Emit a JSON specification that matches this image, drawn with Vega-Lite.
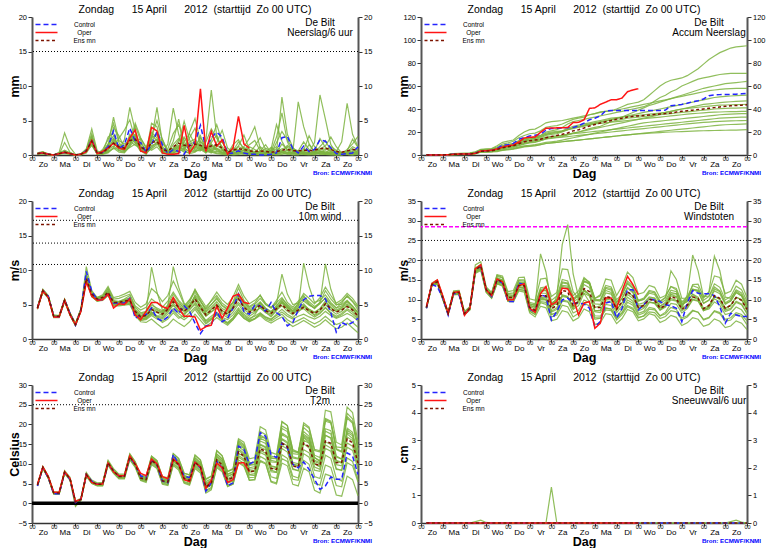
{
  "$schema": "https://vega.github.io/schema/vega-lite/v6.json",
  "padding": {"left": 8, "top": 4, "right": 0, "bottom": 0},
  "datasets": {
    "rr": [
      {"s": "m01", "v": [0.2,0.4,0.1,0,0.3,0.6,0.3,0,0.1,0.8,2.6,0.3,0.2,1.5,2.8,1.0,0.6,2.4,3.0,0.8,0.2,2.5,3.1,0.5,0.1,0.9,2.2,1.5,0.8,2.0,1.2,0.4,1.8,2.9,0.7,0.1,0.3,0.5,0.2,0.1,0,0.2,0.5,0.1,0.3,1.6,0.8,0.2,0.1,0.4,0.2,0.3,1.2,2.1,0.6,0.1,0,0.3,0.9,0.4]},
      {"s": "m02", "v": [0.1,0.2,0,0,0.1,1.8,0.4,0,0.2,0.5,1.4,0.1,0.8,2.2,4.6,1.8,0.9,1.5,2.8,1.1,0.3,1.2,1.8,0.3,0.9,3.1,4.4,2.0,0.6,1.1,2.5,1.4,0.6,0.9,0.4,0.2,1.5,2.2,0.7,0.2,0.1,0.6,1.5,0.3,0.1,0.4,0.2,0,0,0.3,1.5,0.4,0.2,0.1,0,0,0.1,0.6,2.3,1.1]},
      {"s": "m03", "v": [0.3,0.5,0.1,0,0.2,0.3,0.1,0,0.1,0.9,3.8,0.6,0.2,0.4,1.1,2.4,3.6,5.1,2.2,0.9,1.1,3.3,2.5,0.6,0.2,0.3,0.6,0.8,2.5,3.9,1.6,0.3,0.9,1.2,2.0,0.6,0.2,0.4,1.1,0.6,0.3,0.1,0,0.2,1.8,3.4,2.2,0.9,0.5,0.1,0,0.2,0.9,1.3,2.6,1.2,0.3,0.1,0,0.2]},
      {"s": "m04", "v": [0.1,0.3,0.1,0,0.4,3.2,1.1,0.1,0,0.4,1.9,0.2,0.1,0.6,2.0,0.7,0.5,1.3,4.2,2.1,0.4,0.9,1.5,2.3,0.5,0.2,1.0,2.6,1.0,0.5,0.8,2.1,9.4,2.7,0.9,0.2,0,0.1,0.4,1.2,0.8,0.3,0.1,0,0.2,0.5,1.4,0.7,0.2,0.9,0.4,0.2,0.5,0.3,0.2,0.1,0.4,0.2,0.1,0.5]},
      {"s": "m05", "v": [0.2,0.3,0.1,0,0.2,0.5,0.2,0,0.1,0.7,2.4,0.3,0.6,1.4,5.5,2.1,1.6,2.0,1.4,1.0,0.5,2.2,6.9,1.8,0.6,0.5,1.2,0.9,1.9,2.3,0.9,0.5,1.6,0.8,0.3,0.1,0.5,1.3,2.9,0.8,0.2,0.1,0.4,1.1,0.4,8.4,3.0,1.1,0.3,0.2,0.1,0,0.3,0.6,0.2,0,0,0.2,0.4,0.6]},
      {"s": "m06", "v": [0.2,0.2,0.1,0,0.2,0.3,0.2,0,0.1,0.5,1.8,0.1,0.3,2.6,3.2,0.8,2.2,6.9,3.5,1.2,0.2,1.0,1.9,0.4,0.1,0.6,1.8,4.9,2.2,0.7,0.6,1.9,3.8,2.4,1.2,0.3,0.9,0.4,0.2,0.1,0.4,1.2,0.6,0.2,0.1,0.3,0.1,0.2,0.6,1.9,0.8,0.3,0.1,0.2,0.9,0.4,0.2,0.1,0.3,0.2]},
      {"s": "m07", "v": [0.2,0.3,0.1,0,0.1,0.4,0.2,0,0.1,0.6,2.2,0.2,0.4,1.1,1.8,1.5,0.9,2.6,1.7,0.5,0.8,2.9,2.1,0.3,1.6,6.8,3.0,0.7,0.2,0.4,1.1,0.6,0.3,1.8,3.6,1.0,0.4,0.2,0.1,0.3,1.3,2.5,0.8,0.1,0,0.1,0.3,0.4,7.7,4.1,1.6,0.5,0.2,0.1,0.3,0.6,0.2,0.1,0,0.1]},
      {"s": "m08", "v": [0.3,0.4,0.2,0,0.3,0.7,0.3,0,0.2,0.8,3.1,0.4,0.2,0.8,1.3,0.6,0.4,1.6,2.9,1.4,0.3,4.6,4.1,1.0,0.3,1.5,2.4,1.6,1.1,0.9,2.8,0.7,0.5,0.3,0.2,0.1,0.2,0.6,0.3,0.4,0.2,0.1,0.3,0.5,0.9,0.4,0.2,0.3,0.1,0.2,0.4,1.8,8.7,5.2,1.5,0.3,0.1,0.4,1.2,0.8]},
      {"s": "m09", "v": [0.1,0.2,0,0,0.1,0.2,0.1,0,0,0.3,1.5,0.2,0.6,0.9,2.3,1.3,0.6,1.1,1.6,2.4,1.2,0.7,1.2,0.2,0.4,0.8,1.3,0.5,3.3,5.3,2.0,1.2,0.8,1.0,0.6,0.2,0.6,1.9,1.0,0.3,0.1,0,0.2,0.7,1.2,0.6,0.3,0.5,0.2,0.3,0.2,0.1,0.6,0.4,0.3,0.5,1.9,7.5,3.0,1.2]},
      {"s": "m10", "v": [0.2,0.3,0.1,0,0.2,0.4,0.2,0,0.1,0.6,2.0,0.3,0.2,0.5,0.9,1.1,0.8,3.0,2.0,0.6,0.1,1.4,1.6,0.9,0.2,0.3,0.9,0.4,0.3,1.2,0.7,0.9,1.5,0.6,0.4,0.3,1.1,0.5,0.4,0.2,0.3,0.5,0.2,0.1,0.2,0.6,0.4,0.2,0.3,0.5,0.3,0.4,0.3,0.2,0.1,0.2,0.3,0.5,0.3,0.2]},
      {"s": "m11", "v": [0.2,0.3,0.1,0,0.2,0.5,0.2,0,0.1,0.7,2.5,0.2,0.5,1.6,2.4,1.2,1.3,2.2,2.6,1.7,0.6,1.7,2.3,0.9,0.5,1.0,1.4,1.2,1.6,1.9,1.3,0.8,1.1,1.4,0.8,0.2,0.5,0.8,0.6,0.4,0.2,0.4,0.3,0.2,0.4,0.9,1.1,0.7,0.4,0.3,0.2,0.5,0.7,0.9,0.5,0.2,0.1,0.4,0.6,0.8]},
      {"s": "m12", "v": [0.2,0.3,0.1,0,0.2,0.4,0.2,0,0.1,0.5,1.7,0.1,0.2,0.7,4.0,2.8,1.1,1.8,4.6,2.5,0.9,2.1,3.0,1.3,0.2,0.1,0.4,2.0,3.1,1.5,0.8,0.3,2.2,4.4,1.9,0.4,0.1,0.3,0.7,1.5,2.1,0.6,0.2,0.5,2.6,6.1,1.9,0.4,0.2,0.1,0.1,0.6,2.4,1.1,0.4,0.1,0.2,0.8,1.6,2.7]},
      {"s": "m13", "v": [0.2,0.3,0.1,0,0.2,0.4,0.2,0,0.1,0.6,2.3,0.2,0.3,1.0,2.1,0.9,0.7,2.7,1.9,0.8,0.4,1.9,2.2,0.6,0.3,0.7,1.1,0.8,0.6,1.0,1.9,1.1,0.6,0.5,0.3,0.1,0.4,1.2,0.9,0.7,0.5,0.3,1.0,0.6,0.2,0.3,0.7,0.9,0.6,0.4,0.3,0.2,0.4,0.8,1.2,0.7,0.3,0.2,0.5,0.3]},
      {"s": "m14", "v": [0.2,0.4,0.1,0,0.2,0.5,0.2,0,0.1,0.6,2.7,0.4,0.1,0.3,1.0,0.4,0.3,1.2,2.4,0.9,0.2,2.6,5.0,2.2,0.4,2.0,5.2,1.1,0.4,0.6,1.5,0.9,0.4,0.2,0.1,0,0.2,0.3,1.2,2.4,4.1,1.0,0.3,0.8,4.4,2.0,0.6,0.2,0.1,0.7,2.8,1.2,0.5,0.3,0.1,0,0.1,0.2,0.3,0.5]},
      {"s": "Control", "v": [0.2,0.3,0.1,0,0.2,0.4,0.2,0,0.1,0.6,2.2,0.2,0.4,1.2,3.5,0.9,1.5,3.9,2.0,1.8,0.4,1.5,3.4,1.5,0.2,0.8,0.5,0.1,1.5,1.8,4.3,1.0,2.5,3.3,2.6,0.2,0.3,0.6,0.3,0.1,0.1,0,0,0.1,0.3,2.5,2.7,0.9,0.3,1.3,0.5,0.8,2.2,2.0,1.0,0.2,0.1,0.2,0.3,1.2]},
      {"s": "Oper", "v": [0.2,0.3,0.1,0,0.2,0.4,0.2,0,0.1,0.5,2.1,0.2,0.5,1.0,1.7,1.0,0.8,2.5,3.6,0.6,0.3,4.0,3.5,0.3,0.1,0.1,0.2,4.3,0.3,1.5,9.6,0.5,3.4,1.3,2.2,0.1,1.0,5.6,1.6,1.0]},
      {"s": "Ens mn", "v": [0.2,0.3,0.1,0.05,0.2,0.4,0.2,0.05,0.1,0.6,2.0,0.3,0.3,1.0,1.7,1.2,1.0,2.1,2.3,1.2,0.6,1.8,2.0,0.8,0.6,1.2,1.7,1.4,1.3,1.6,1.4,1.0,1.3,1.5,1.0,0.4,0.7,0.9,0.8,0.6,0.5,0.6,0.5,0.4,0.5,0.7,0.8,0.6,0.6,0.7,0.6,0.7,0.9,1.0,0.8,0.5,0.4,0.6,0.8,0.7]}
    ],
    "acc": [
      {"s": "m01", "v": [0,0,0,0,0.3,1,1.2,1.3,1.5,2.5,4.5,5,5.4,7,9.5,10.5,12,15,17,18.5,19,21,24,25,25.5,27,29,31,32,33,35,36,37.5,38,38.5,40,42,44,45,46,48,52,56,60,63,65,66,67,69,72,75,79,83,86,89,91,93,94,94.5,95]},
      {"s": "m02", "v": [0,0,0,0,0.2,0.8,1,1,1.2,2,3.8,4,4.5,6,8,9,10,12.5,14,15,15.5,17,20,21,22,24,27,29,30,31,32,33,34,35,36,37,38,39,40,41,42,44,47,50,52,55,57,60,62,64,66,67,68,69,70,70.5,71,71,71,71]},
      {"s": "m03", "v": [0,0,0,0,0.3,1.2,1.5,1.6,1.8,2.8,5,5.3,5.6,8,11,12,13,17,20,22,22.5,25,28,29,29.5,30,31,32,33,34,35,36,37,38,38.5,39,40,41,42,43,44,45,46,47,48,49,50,51,52,53,54,55,56,56.5,57,57.5,57.8,58,58,58]},
      {"s": "m04", "v": [0,0,0,0,0.1,0.5,0.7,0.7,0.8,1.3,3,3.1,3.3,4.5,6.5,7.5,8,10,12,13,13.5,15,17,18,18.5,20,22,24,25,26,27,28,29,30,31,32,33,34,35,36,37,38,39,40,41,42,43,44,45,46,47,48,49,50,50.5,51,51.3,51.6,51.8,52]},
      {"s": "m05", "v": [0,0,0,0,0.2,0.4,0.5,0.5,0.6,1.2,2.8,3,3.2,4,5.5,6,6.5,8,9.5,10.5,11,12.5,14,15,15.5,16,17.5,19,20,21.5,23,24,25,27,29,30,31,32,32.5,33,33.5,34,35,36,37,38,39,40,41,42,43,44,44.5,45,45.5,46,46.3,46.6,46.8,47]},
      {"s": "m06", "v": [0,0,0,0,0.3,0.9,1.1,1.1,1.3,2,4,4.3,4.6,5.5,7,8,9,11,13,14,14.5,16,18,19,19.5,21,23,25,26,27,28,29,30,31,32,32.5,33,33.5,34,34.5,35,35.5,36,36.5,37,38,39,40,40.5,41,41.5,42,42.5,43,43.3,43.5,43.7,43.8,43.9,44]},
      {"s": "m07", "v": [0,0,0,0,0.2,0.6,0.8,0.8,1,1.6,3.5,3.7,4,5,6.5,7.5,8.5,10,11.5,12.5,13,14,15.5,16,16.5,17,18,19,20,21,22,23,24,25,26,27,28,29,30,31,32,33,34,35,35.5,36,36.5,37,37.5,38,38.5,39,39.5,40,40.3,40.5,40.7,40.8,40.9,41]},
      {"s": "m08", "v": [0,0,0,0,0.3,1,1.2,1.2,1.4,2.2,4.2,4.5,4.8,6,8,9,10,12,14,15,15.5,17,19,20,20.5,21,22,23,24,25,26,27,27.5,28,28.5,29,29.5,30,30.5,31,31.5,32,32.5,33,33.5,34,34.5,35,35.5,36,36.3,36.6,37,37.2,37.4,37.6,37.7,37.8,37.9,38]},
      {"s": "m09", "v": [0,0,0,0,0.1,0.4,0.6,0.6,0.7,1.1,2.6,2.7,2.9,3.5,4.5,5,5.5,7,8,8.5,9,10,11,11.5,12,13,14,15,16,17,18,19,20,21,22,23,24,25,26,27,28,28.5,29,29.5,30,30.5,31,31.5,32,32.5,33,33.5,34,34.5,35,35.3,35.5,35.7,35.9,36]},
      {"s": "m10", "v": [0,0,0,0,0.2,0.7,0.9,0.9,1,1.8,3.8,4,4.2,5,6.5,7,7.5,9,10.5,11.5,12,13.5,15,16,16.5,17,18,18.5,19,19.5,20,20.5,21,21.5,22,22.5,23,23.5,24,24.5,25,25.5,26,26.5,27,27.5,28,28.5,29,29.5,30,30.5,31,31.5,32,32.3,32.5,32.7,32.9,33]},
      {"s": "m11", "v": [0,0,0,0,0.3,0.8,1,1,1.2,1.9,3.6,3.8,4,4.8,6,6.5,7,8.5,10,11,11.5,12.5,14,14.5,15,15.5,16,16.5,17,17.5,18,18.5,19,19.5,20,20.5,21,21.5,22,22.5,23,23.5,24,24.5,25,25.5,26,26.5,27,27.5,28,28.3,28.6,29,29.2,29.4,29.6,29.8,29.9,30]},
      {"s": "m12", "v": [0,0,0,0,0.1,0.3,0.4,0.4,0.5,0.9,2.4,2.5,2.6,3,4,4.5,5,6,7,7.5,8,9,10,10.5,11,11.5,12,12.5,13,13.5,14,14.5,15,15.5,16,16.5,17,17.5,18,18.5,19,19.5,20,20.5,21,21.5,22,22.5,23,23.5,24,24.5,25,25.5,26,26.3,26.5,26.7,26.9,27]},
      {"s": "m13", "v": [0,0,0,0,0.2,0.5,0.6,0.6,0.7,1.2,2.8,2.9,3,3.5,4.5,5,5.5,6.5,7.5,8,8.5,9,10,10.5,11,11.5,12,12.5,13,13.5,14,14.5,15,15.5,16,16.5,17,17.5,18,18.3,18.6,18.9,19.2,19.5,19.8,20,20.2,20.4,20.6,20.8,21,21.1,21.2,21.3,21.4,21.5,21.6,21.7,21.8,22]},
      {"s": "m14", "v": [0,0,0,0,0.2,0.6,0.8,0.8,0.9,1.6,3.4,3.6,3.9,5,7,8,9,11,13,14,14.5,16,18,19,19.5,20.5,22,23.5,24.5,25.5,26.5,27.5,28.5,29.5,30.5,31.5,33,35,37,39,41,43,44.5,46,47.5,49,50.5,52,53.5,55,56.5,58,59,60,61,62,62.5,63,63.5,64]},
      {"s": "Control", "v": [0,0,0,0,0.2,0.6,0.8,0.8,0.9,1.5,3.6,3.7,4.1,5.4,8.7,8.9,10.1,13.7,15.2,16.6,17.2,18,21.6,23,23.2,23.5,23.8,23.9,25.4,27.7,30.6,32,34,38.5,38.6,38.6,38.6,38.7,38.7,38.7,38.7,38.7,38.7,38.8,39.1,42.9,43.4,44,45,46.4,47.2,48.7,51.6,52.2,52.5,52.6,52.7,52.9,53.2,53.6]},
      {"s": "Oper", "v": [0,0,0,0,0.2,0.6,0.8,0.8,0.9,1.4,3.5,3.7,4.2,5.2,6.9,7.9,8.7,11.2,14.8,15.4,15.7,19.7,23.2,23.5,23.6,23.7,23.9,28.2,28.4,30.5,40.5,41,44,46,48,48.1,49.5,55,56.6,57.6]},
      {"s": "Ens mn", "v": [0,0,0,0,0.2,0.6,0.8,0.8,0.9,1.5,3.2,3.4,3.7,4.8,6.2,7.2,8.0,9.8,11.5,12.4,13.0,13.7,15.0,16.0,17.0,18.0,19.2,21.0,22.0,23.5,25.2,26.6,27.8,29.0,30.0,31.2,32.0,33.0,33.6,34.0,34.4,34.8,35.2,35.6,36.0,36.6,37.3,38.0,38.5,39.0,39.5,40.0,40.6,41.2,41.8,42.4,42.8,43.1,43.3,43.6]}
    ],
    "wind": [
      {"s": "m01", "v": [4.6,7.2,6.3,3.5,3.4,5.8,3.8,2.3,4.4,10.5,7.0,6.0,6.2,7.2,5.6,5.4,5.8,6.3,4.6,3.8,4.0,5.2,4.3,3.9,5.0,6.5,5.4,4.4,5.3,7.2,5.6,4.0,5.0,6.0,4.8,4.2,5.4,7.4,5.6,4.7,5.2,6.4,5.0,4.5,5.6,6.8,5.3,4.6,5.5,6.3,5.1,4.4,5.3,7.0,5.8,4.9,5.4,6.2,5.4,4.2]},
      {"s": "m02", "v": [4.3,6.8,5.9,3.1,3.1,5.4,3.4,1.9,4.0,9.2,6.2,5.5,5.7,6.4,4.9,5.0,5.1,5.2,3.5,2.7,2.9,3.6,3.2,2.9,3.6,4.4,3.7,3.1,3.8,4.6,3.6,2.7,3.3,3.9,3.1,2.8,3.5,4.5,3.6,3.0,3.3,3.8,3.2,2.9,3.4,3.9,3.3,2.9,3.3,3.6,3.2,2.9,3.3,4.0,3.4,3.0,3.3,3.7,3.3,2.6]},
      {"s": "m03", "v": [4.5,7.1,6.2,3.4,3.4,5.7,3.7,2.2,4.3,9.0,6.6,6.0,6.4,7.6,6.0,6.2,6.5,6.9,5.3,4.6,5.1,7.3,6.6,5.4,6.3,8.4,6.8,5.0,4.6,5.5,3.9,2.6,3.0,3.7,2.9,2.4,3.1,4.2,3.4,2.8,3.5,4.8,3.9,3.2,4.1,5.4,4.7,4.0,5.2,6.6,5.9,5.1,6.0,7.5,6.3,5.2,5.7,6.6,5.9,4.8]},
      {"s": "m04", "v": [4.4,6.9,6.0,3.2,3.2,5.5,3.5,2.0,4.1,8.5,6.3,5.6,5.8,6.6,5.1,5.1,5.3,5.5,3.7,2.9,3.0,3.9,3.1,2.4,2.9,3.8,3.0,3.4,4.6,6.4,5.4,4.4,5.6,6.8,5.7,5.0,6.1,7.9,6.2,5.1,5.6,6.3,5.2,4.6,5.3,6.0,4.9,4.1,4.5,5.1,4.2,3.4,3.8,4.5,3.7,3.1,3.5,4.2,3.6,2.9]},
      {"s": "m05", "v": [4.5,7.0,6.1,3.3,3.3,5.6,3.6,2.1,4.2,8.8,6.4,5.7,5.9,6.7,5.2,5.2,5.4,5.5,3.9,3.1,3.3,4.2,3.8,3.4,4.8,10.5,7.5,5.2,4.4,5.0,3.6,2.4,2.9,3.6,2.7,2.2,2.8,3.8,3.0,2.5,2.9,3.7,3.1,2.8,3.6,4.3,3.6,3.1,3.9,4.7,4.0,3.5,4.1,5.0,4.2,3.6,4.0,4.9,4.3,3.4]},
      {"s": "m06", "v": [4.6,7.1,6.2,3.4,3.3,5.7,3.6,2.1,4.2,9.5,6.8,5.9,6.1,7.0,5.4,5.4,5.6,6.0,4.2,3.4,3.8,10.4,6.8,4.2,4.0,4.9,4.0,3.6,4.2,5.2,4.3,3.3,4.0,4.6,3.8,3.4,4.3,5.3,4.3,3.7,4.0,4.5,3.8,3.4,4.2,4.8,4.0,3.5,4.6,11.0,7.6,5.3,5.6,6.4,5.3,4.5,4.8,5.5,4.7,3.9]},
      {"s": "m07", "v": [4.5,7.0,6.1,3.3,3.2,5.6,3.6,2.0,4.1,8.7,6.4,5.7,5.9,6.6,5.1,5.2,5.3,5.4,3.8,3.0,3.1,3.9,3.3,3.1,3.9,4.9,4.1,3.7,4.6,5.9,4.5,3.3,3.9,4.5,3.6,3.1,3.9,5.0,3.9,3.3,3.8,4.6,3.9,3.6,4.4,5.3,4.6,4.1,4.8,5.5,4.9,4.5,5.3,10.9,7.2,5.0,5.0,5.6,4.8,3.8]},
      {"s": "m08", "v": [4.4,6.9,6.0,3.2,3.2,5.5,3.5,2.0,4.0,8.4,6.1,5.5,5.6,6.3,4.8,4.8,4.9,5.0,3.4,2.5,2.4,2.9,2.2,1.6,2.0,2.9,2.3,1.8,2.5,3.6,2.7,1.8,2.4,3.1,2.5,2.0,2.8,3.9,3.0,2.6,2.9,3.4,2.7,2.3,2.8,3.2,2.4,1.8,2.2,2.7,2.2,1.7,2.1,2.8,2.1,1.5,1.7,2.3,1.6,0.9]},
      {"s": "m09", "v": [4.6,7.1,6.2,3.4,3.4,5.7,3.7,2.2,4.3,9.3,6.7,6.0,6.2,7.4,5.8,5.9,6.2,6.5,4.8,4.2,4.6,5.8,5.2,4.6,5.5,6.8,5.6,4.8,5.7,7.1,5.9,4.7,5.5,6.3,5.2,4.6,5.3,6.6,5.3,4.4,4.7,5.4,4.5,4.0,4.8,5.8,5.0,4.4,5.0,6.1,5.4,4.7,5.2,5.9,4.9,4.2,4.6,5.4,4.7,3.8]},
      {"s": "m10", "v": [4.5,7.0,6.1,3.3,3.3,5.6,3.6,2.1,4.2,8.9,6.5,5.8,6.0,6.8,5.3,5.3,5.5,5.7,4.0,3.3,3.6,4.6,4.2,3.8,4.5,5.7,4.9,4.3,5.0,6.2,5.0,3.9,4.6,5.4,4.4,4.0,4.9,6.3,5.0,4.2,4.5,5.2,4.3,3.9,4.6,5.2,4.3,3.7,4.1,4.4,3.7,3.2,3.7,4.6,3.8,3.3,3.7,4.4,3.9,3.1]},
      {"s": "m11", "v": [4.5,7.0,6.1,3.3,3.3,5.6,3.6,2.1,4.2,8.6,6.3,5.6,5.8,6.5,5.0,5.1,5.2,5.4,3.7,2.9,3.1,3.7,3.4,3.3,4.1,5.2,4.4,4.0,4.8,6.1,4.9,3.6,4.3,5.0,4.1,3.7,4.6,5.9,4.7,4.0,4.4,5.1,4.3,3.8,4.5,5.4,4.5,3.9,4.2,4.8,4.3,3.8,4.4,5.5,4.6,4.0,4.5,5.1,4.4,3.5]},
      {"s": "m12", "v": [4.5,7.0,6.1,3.3,3.3,5.6,3.6,2.1,4.2,8.8,6.4,5.7,5.9,6.7,5.2,5.3,5.4,5.6,4.0,3.3,3.5,4.4,4.0,3.7,4.4,5.6,4.7,4.1,4.9,6.0,4.7,3.6,4.3,5.1,4.1,3.7,4.6,6.1,4.8,4.0,4.3,5.3,4.4,3.9,4.8,5.6,4.6,4.0,4.5,4.9,4.3,3.9,4.4,5.3,4.5,4.0,4.3,4.8,4.3,3.4]},
      {"s": "m13", "v": [4.5,7.1,6.2,3.4,3.3,5.7,3.7,2.1,4.2,8.9,6.6,5.9,6.1,6.9,5.4,5.5,5.7,5.9,4.3,3.6,3.9,4.9,4.5,4.1,4.8,6.0,5.1,4.6,5.6,6.8,5.5,4.3,5.0,5.8,4.9,4.4,5.2,6.5,5.3,4.6,5.0,5.9,5.0,4.5,5.1,9.4,6.5,5.0,5.2,5.8,5.0,4.5,5.1,6.0,5.1,4.5,5.2,6.3,5.5,4.6]},
      {"s": "m14", "v": [4.4,6.9,6.0,3.2,3.2,5.5,3.5,2.0,4.1,8.6,6.2,5.5,5.7,6.4,4.9,4.9,5.0,5.1,3.5,2.7,2.8,3.4,2.9,2.6,3.2,4.1,3.3,2.8,3.4,4.3,3.2,2.2,2.8,3.5,2.7,2.3,3.0,4.2,3.2,2.7,3.0,3.6,2.9,2.6,3.1,3.6,2.8,2.3,2.7,3.1,2.6,2.2,2.6,3.3,2.6,2.1,2.4,3.0,2.4,1.7]},
      {"s": "Control", "v": [4.5,7.0,6.2,3.3,3.2,5.7,3.7,2.0,4.2,9.8,6.9,5.7,5.7,6.6,5.2,5.2,5.2,5.9,3.0,3.5,3.5,4.5,3.0,2.6,3.2,4.5,3.7,4.8,4.0,2.3,0.8,1.9,2.1,4.0,2.5,3.0,4.5,6.5,4.0,3.6,4.9,4.8,4.0,5.3,3.8,3.3,1.9,2.4,4.2,5.7,6.2,6.3,6.3,5.8,3.8,1.0,2.4,2.0,2.4,3.0]},
      {"s": "Oper", "v": [4.4,7.0,6.0,3.2,3.2,5.6,3.5,2.1,4.0,8.3,6.2,5.6,5.7,6.5,4.5,5.1,5.0,5.8,3.5,2.8,4.0,5.3,5.3,4.7,4.4,6.0,4.5,3.3,3.3,3.2,1.3,1.8,2.0,4.8,3.0,4.5,6.2,6.5,5.3,5.1]},
      {"s": "Ens mn", "v": [4.5,7.0,6.1,3.3,3.3,5.6,3.6,2.1,4.2,8.8,6.5,5.8,6.0,6.8,5.3,5.3,5.5,5.6,4.0,3.2,3.4,4.3,3.9,3.6,4.3,5.4,4.6,4.0,4.7,5.8,4.6,3.5,4.2,4.9,4.0,3.6,4.5,5.8,4.6,3.9,4.2,4.9,4.1,3.7,4.4,5.0,4.2,3.7,4.2,4.6,4.1,3.7,4.2,5.1,4.4,3.9,4.2,4.7,4.2,3.3]}
    ],
    "gust": [
      {"s": "m01", "v": [8.2,14.2,15.0,11.0,6.8,12.2,12.3,6.9,8.2,18.8,19.6,13.2,11.8,16.2,15.6,11.3,11.4,14.8,14.7,9.0,8.4,12.6,12.8,9.0,10.0,14.5,14.2,10.0,11.2,15.3,14.4,9.7,9.8,13.1,12.8,9.2,11.5,14.7,13.4,9.8,10.4,12.3,12.0,9.6,10.6,13.3,12.8,9.4,10.7,13.5,13.0,9.8,10.8,14.0,13.1,9.9,10.8,13.4,12.5,9.6]},
      {"s": "m02", "v": [7.8,13.4,14.0,10.0,6.2,11.2,11.3,6.1,7.4,16.6,17.4,11.8,10.3,14.0,13.4,9.6,9.6,12.5,12.3,7.0,6.3,9.5,9.3,6.2,6.8,9.9,9.6,6.6,7.3,9.9,9.2,5.9,5.8,7.9,7.6,5.3,6.7,8.5,7.8,5.5,5.8,6.9,6.7,5.2,5.7,7.2,6.9,4.9,5.6,7.1,6.8,5.0,5.5,7.2,6.7,5.0,5.4,6.7,6.2,4.6]},
      {"s": "m03", "v": [8.0,13.9,14.6,10.6,6.6,11.9,12.0,6.7,8.0,17.1,18.0,12.9,11.7,16.3,16.0,12.0,12.3,15.6,15.7,10.2,9.8,15.2,15.4,10.8,11.8,17.8,17.6,12.0,10.2,12.6,11.2,6.9,6.7,8.8,8.5,5.8,7.4,9.9,9.1,6.5,7.0,9.2,9.3,7.3,8.1,11.4,11.5,8.6,10.2,13.8,13.9,10.7,11.8,16.0,15.6,11.5,12.1,14.9,13.9,10.5]},
      {"s": "m04", "v": [7.9,13.6,14.3,10.3,6.3,11.5,11.5,6.3,7.6,16.9,17.9,12.1,10.6,14.5,14.0,10.0,10.0,13.0,12.8,7.5,6.7,10.2,10.0,6.2,6.6,9.6,9.4,7.6,10.0,14.6,14.3,10.3,11.2,15.2,14.9,11.0,13.4,17.0,15.6,11.4,11.8,13.6,13.1,10.4,11.0,13.3,12.4,8.8,9.5,11.3,10.2,7.2,7.6,9.4,8.6,6.2,6.6,8.1,7.4,5.5]},
      {"s": "m05", "v": [8.0,13.8,14.5,10.5,6.5,11.7,11.8,6.5,7.8,17.4,18.4,12.4,10.9,14.9,14.4,10.4,10.4,13.5,13.4,7.8,7.1,10.6,10.5,7.2,11.0,24.0,29.0,16.5,10.6,11.6,9.4,5.4,5.3,7.4,7.2,4.8,6.2,8.2,7.5,5.3,5.9,7.6,7.4,5.9,6.8,9.0,8.8,6.6,7.7,9.9,9.6,7.2,8.2,10.8,10.2,7.8,8.6,10.6,9.9,7.3]},
      {"s": "m06", "v": [8.1,13.9,14.6,10.6,6.6,11.8,11.9,6.6,7.9,18.0,18.9,12.9,11.3,15.5,15.0,10.9,11.1,14.4,14.3,8.8,8.7,21.6,17.0,8.9,8.8,11.0,10.7,8.3,9.6,12.3,11.3,8.0,8.4,10.6,10.1,7.5,9.2,11.3,10.3,7.8,8.1,9.4,9.0,7.5,8.3,9.9,9.6,7.8,11.2,21.3,17.3,10.7,10.9,13.2,12.2,9.0,9.6,11.8,10.9,8.2]},
      {"s": "m07", "v": [8.0,13.8,14.5,10.5,6.5,11.7,11.8,6.5,7.7,17.3,18.3,12.3,10.8,14.7,14.2,10.2,10.2,13.2,13.0,7.6,6.9,10.4,10.1,7.0,7.9,11.2,10.8,8.0,9.2,12.2,11.2,7.2,7.2,9.7,9.3,6.7,8.4,10.6,9.6,7.1,7.8,9.4,9.1,7.4,8.6,10.9,10.7,8.4,9.9,12.6,12.4,10.4,12.0,21.0,17.3,10.6,10.3,12.2,11.2,8.4]},
      {"s": "m08", "v": [7.8,13.5,14.1,10.1,6.2,11.3,11.4,6.2,7.4,16.8,17.6,11.9,10.4,14.1,13.5,9.5,9.4,12.2,11.9,6.6,5.6,8.3,7.9,4.6,5.0,7.2,6.8,4.6,5.4,7.6,6.9,3.7,4.1,6.4,6.2,3.9,5.2,7.5,6.9,4.6,5.1,6.4,6.0,4.2,4.8,6.0,5.5,3.4,4.1,5.4,5.0,3.2,3.7,5.1,4.5,2.9,3.3,4.6,4.0,2.4]},
      {"s": "m09", "v": [8.1,14.0,14.8,10.8,6.8,12.0,12.2,6.9,8.2,17.8,18.8,12.9,11.6,15.9,15.5,11.5,11.7,15.0,15.0,9.3,8.9,13.0,13.2,9.8,10.9,15.1,14.7,11.0,12.2,15.6,14.4,10.3,10.9,13.6,13.2,10.0,11.3,14.0,12.8,9.7,10.0,11.6,11.3,9.0,9.9,12.4,12.0,9.2,10.1,12.5,12.0,9.0,9.8,12.2,11.5,8.8,9.6,11.8,11.0,8.1]},
      {"s": "m10", "v": [8.0,13.8,14.5,10.5,6.5,11.7,11.8,6.5,7.8,17.6,18.6,12.6,11.1,15.1,14.6,10.6,10.6,13.8,13.7,8.2,7.6,11.6,11.6,8.3,9.2,13.3,13.0,9.4,10.3,13.8,13.0,8.9,8.8,11.7,11.4,8.3,10.3,13.1,12.0,8.8,9.2,10.7,10.4,8.3,9.0,11.3,10.8,7.9,8.6,10.6,10.0,7.3,7.9,10.2,9.4,7.0,7.5,9.3,8.7,6.4]},
      {"s": "m11", "v": [7.9,13.7,14.4,10.4,6.4,11.6,11.6,6.4,7.6,17.2,18.2,12.2,10.7,14.6,14.0,10.0,10.0,13.1,12.9,7.4,6.7,10.0,9.9,6.8,7.5,10.8,10.5,7.5,8.5,11.6,10.9,7.1,7.3,10.1,9.9,7.3,9.2,11.8,10.9,8.0,8.6,10.4,10.3,8.4,9.3,11.8,11.5,8.8,9.5,11.4,10.6,7.8,8.4,10.9,10.0,7.4,7.8,9.6,8.9,6.6]},
      {"s": "m12", "v": [8.0,13.8,14.5,10.5,6.5,11.7,11.8,6.5,7.9,17.7,18.6,12.6,11.1,15.2,14.7,10.7,10.8,14.0,14.0,8.5,8.0,12.1,12.3,9.0,10.0,14.2,14.0,10.3,11.3,14.8,13.9,9.9,9.6,12.3,11.8,8.6,10.4,12.9,11.7,8.5,8.6,10.1,9.8,7.9,8.4,10.3,9.8,7.2,8.0,10.1,9.7,7.2,8.1,10.7,10.1,7.7,8.5,10.6,10.0,7.6]},
      {"s": "m13", "v": [8.0,13.9,14.6,10.6,6.6,11.8,11.9,6.6,7.9,17.9,18.8,12.8,11.3,15.4,14.9,10.8,10.9,14.1,14.1,8.6,8.1,12.3,12.4,9.1,9.8,13.6,13.4,9.8,11.0,14.6,14.0,10.0,10.0,12.8,12.4,9.3,11.2,14.2,13.0,9.6,10.1,12.0,11.7,9.5,10.4,17.3,15.1,10.3,10.4,12.7,12.2,9.1,9.9,12.7,12.0,9.2,10.0,12.5,11.7,8.9]},
      {"s": "m14", "v": [7.9,13.7,14.3,10.3,6.3,11.5,11.6,6.3,7.6,17.0,17.9,12.0,10.5,14.3,13.7,9.7,9.6,12.6,12.4,7.1,6.2,9.2,8.8,5.6,6.1,8.6,8.2,5.6,6.5,9.1,8.4,5.0,5.3,7.8,7.6,5.2,6.6,9.3,8.6,6.1,6.6,8.0,7.7,5.8,6.4,8.0,7.5,5.3,5.9,7.3,6.8,4.8,5.3,7.0,6.4,4.5,4.8,6.3,5.7,3.6]},
      {"s": "Control", "v": [7.8,13.8,13.3,10.4,6.1,11.6,11.2,6.1,7.8,17.6,18.4,12.5,10.8,15.0,14.2,9.5,9.5,14.2,13.8,7.4,7.0,11.2,10.8,4.8,7.0,9.9,10.4,9.1,9.1,8.9,7.8,3.1,4.4,9.1,9.5,5.3,7.8,12.5,12.5,7.4,8.7,10.1,9.9,9.5,8.7,8.4,7.8,4.4,9.1,12.3,11.6,11.5,11.5,11.0,8.2,4.0,6.5,6.1,5.7,5.7]},
      {"s": "Oper", "v": [8.2,14.0,15.0,11.0,6.5,11.8,12.0,6.0,7.8,17.8,18.8,12.5,11.0,15.2,14.5,9.9,10.0,13.5,14.0,7.8,6.8,11.5,13.3,8.7,9.5,12.9,12.7,10.4,6.1,9.1,9.5,2.7,4.0,10.4,10.4,7.8,12.1,15.9,13.8,11.2]},
      {"s": "Ens mn", "v": [8.0,13.8,14.5,10.5,6.5,11.7,11.8,6.5,7.8,17.5,18.5,12.5,11.0,15.0,14.5,10.5,10.5,13.6,13.5,8.0,7.3,11.0,11.0,7.7,8.5,12.3,12.0,8.5,9.5,12.8,12.0,8.0,8.0,10.8,10.5,7.5,9.5,12.0,11.0,8.0,8.5,10.0,9.8,7.8,8.5,10.7,10.3,7.5,8.5,10.7,10.3,7.7,8.5,11.0,10.3,7.8,8.5,10.5,9.8,7.5]}
    ],
    "t2m": [
      {"s": "m01", "v": [4.8,9.4,6.9,2.9,2.9,8.3,6.6,0.6,1.3,7.8,5.9,5.2,5.3,10.9,8.8,7.4,7.4,12.6,10.6,7.2,6.8,12.0,10.8,6.7,6.5,12.6,11.3,7.6,7.2,12.3,11.0,6.2,6.9,13.4,12.1,8.0,8.6,16.0,14.9,10.2,10.5,17.3,16.5,11.6,11.3,19.0,18.2,12.6,12.4,19.9,19.0,13.4,13.0,21.3,20.5,14.3,14.1,22.8,21.4,14.5]},
      {"s": "m02", "v": [4.4,8.8,6.3,2.3,2.3,7.5,5.8,-0.8,0.7,6.8,5.0,4.4,4.4,9.6,7.6,6.2,6.2,11.0,9.1,5.8,5.3,9.8,8.8,4.8,4.5,9.6,8.4,5.1,4.6,8.8,7.7,2.6,3.4,9.0,8.0,4.2,4.9,10.2,9.4,5.9,6.1,10.6,10.0,5.6,5.2,11.3,10.6,6.1,5.8,10.9,9.9,5.1,4.6,9.7,9.1,4.5,4.2,10.3,9.5,5.4]},
      {"s": "m03", "v": [4.6,9.1,6.6,2.6,2.5,7.9,6.2,0.3,1.0,7.3,5.4,4.8,4.8,10.3,8.3,6.9,6.9,12.0,10.0,6.6,6.2,11.2,10.2,6.0,5.7,11.5,10.3,6.8,6.3,10.9,9.7,4.9,5.6,11.8,10.6,6.8,7.4,14.4,13.3,9.0,9.3,15.8,15.2,10.5,10.4,17.4,16.6,11.5,11.2,17.5,16.5,11.6,10.8,18.3,17.6,11.7,11.2,19.1,18.0,12.3]},
      {"s": "m04", "v": [4.5,9.0,6.5,2.5,2.6,7.8,6.1,0.2,0.9,7.2,5.3,4.7,4.7,10.1,8.0,6.7,6.7,11.6,9.7,6.2,5.8,10.6,9.6,5.5,5.2,10.6,9.5,6.0,5.5,9.8,8.8,3.8,4.6,10.1,9.1,5.1,5.8,11.7,10.8,7.3,7.5,12.9,12.2,8.0,7.8,13.9,13.0,8.6,8.3,13.6,12.8,8.4,8.1,13.9,13.2,8.6,8.4,14.2,13.4,8.7]},
      {"s": "m05", "v": [4.7,9.2,6.7,2.7,2.7,8.0,6.3,0.4,1.1,7.5,5.6,5.0,5.0,10.5,8.5,7.1,7.1,12.3,10.3,6.9,6.5,11.6,10.5,6.3,6.0,12.1,10.8,7.1,6.6,11.6,10.4,5.5,6.2,12.5,11.3,7.4,8.0,15.3,14.2,9.8,10.0,17.0,16.4,11.4,11.3,19.6,18.8,13.1,12.9,20.4,19.3,13.7,13.3,23.6,23.2,15.5,14.8,24.4,23.0,15.6]},
      {"s": "m06", "v": [4.5,9.0,6.5,2.5,2.5,7.8,6.1,0.2,1.0,7.2,5.3,4.7,4.8,10.2,8.1,6.8,6.7,11.8,9.8,6.3,5.9,10.8,9.7,5.5,5.1,10.8,9.6,6.1,5.6,10.2,9.0,4.0,4.6,10.5,9.4,5.2,5.6,12.1,11.2,7.2,7.0,13.4,12.7,8.4,7.9,14.6,13.8,8.8,8.2,16.0,15.2,10.1,9.5,17.2,16.5,10.7,10.2,18.6,17.5,11.5]},
      {"s": "m07", "v": [4.6,9.1,6.6,2.6,2.6,7.9,6.2,0.3,1.0,7.4,5.5,4.9,4.9,10.4,8.3,6.9,6.9,12.1,10.1,6.6,6.2,11.3,10.2,6.0,5.6,11.4,10.2,6.6,6.2,11.0,9.8,4.8,5.6,12.0,10.8,6.9,7.5,14.8,13.9,9.6,9.8,16.5,15.8,10.9,10.6,17.8,16.9,11.8,11.4,16.6,15.4,10.0,9.2,14.8,14.0,8.8,8.3,15.3,14.5,9.4]},
      {"s": "m08", "v": [4.4,8.9,6.4,2.4,2.4,7.7,6.0,0.1,0.9,7.1,5.2,4.6,4.6,9.9,7.9,6.5,6.5,11.4,9.5,6.1,5.7,10.4,9.3,5.2,4.8,10.2,9.0,5.5,5.1,9.5,8.4,3.3,4.0,9.7,8.6,4.6,5.1,11.0,10.2,6.5,6.6,11.9,11.1,6.7,6.3,12.3,11.4,6.9,6.4,12.6,11.7,6.8,6.3,12.2,11.4,6.3,5.6,11.5,10.6,5.9]},
      {"s": "m09", "v": [4.6,9.1,6.6,2.6,2.6,7.9,6.2,0.3,1.0,7.3,5.4,4.8,4.8,10.3,8.2,6.8,6.8,11.9,9.9,6.5,6.1,11.1,10.0,5.8,5.5,11.2,10.0,6.4,6.0,10.7,9.5,4.5,5.2,11.4,10.2,6.3,7.0,13.8,12.7,8.6,8.8,15.0,14.3,9.5,9.2,16.4,15.6,10.4,10.0,17.1,16.2,10.9,10.3,18.9,18.4,12.0,11.2,17.6,16.4,10.8]},
      {"s": "m10", "v": [4.5,9.0,6.5,2.5,2.5,7.8,6.1,0.2,0.9,7.2,5.3,4.7,4.7,10.1,8.1,6.7,6.7,11.7,9.7,6.3,5.9,10.7,9.6,5.6,5.2,10.9,9.7,6.2,5.7,10.3,9.1,4.1,4.8,10.9,9.8,5.6,6.3,12.7,11.8,7.9,8.1,14.2,13.6,9.0,8.6,15.4,14.6,9.8,9.4,15.1,14.0,9.2,8.6,15.6,14.9,9.8,9.5,16.8,15.9,10.4]},
      {"s": "m11", "v": [4.6,9.1,6.6,2.6,2.6,7.9,6.2,0.3,1.0,7.4,5.5,4.9,4.9,10.4,8.3,6.9,7.0,12.1,10.1,6.7,6.3,11.5,10.4,6.2,5.9,11.8,10.6,6.9,6.5,11.4,10.1,5.1,5.9,12.5,11.2,7.3,7.9,15.6,14.6,10.3,10.4,18.2,17.4,12.0,11.6,20.6,19.7,13.6,13.0,18.2,17.0,11.6,10.6,20.8,20.4,13.6,13.0,21.6,20.3,13.4]},
      {"s": "m12", "v": [4.4,8.9,6.4,2.4,2.4,7.7,6.0,-0.5,0.8,7.0,5.1,4.5,4.5,9.8,7.8,6.4,6.3,11.2,9.3,5.9,5.5,10.1,9.0,5.0,4.7,9.9,8.8,5.3,4.9,9.2,8.1,3.0,3.7,9.3,8.3,4.4,4.8,10.4,9.7,5.8,5.9,10.9,10.2,5.4,4.9,10.2,9.5,4.8,4.4,8.9,8.0,3.3,2.6,7.4,6.9,2.1,1.8,6.9,6.0,1.9]},
      {"s": "m13", "v": [4.5,9.0,6.5,2.5,2.6,7.9,6.2,0.3,1.0,7.3,5.4,4.8,4.8,10.2,8.1,6.7,6.8,11.9,9.8,6.4,6.0,11.0,9.8,5.6,5.4,11.1,9.9,6.3,5.9,10.6,9.4,4.4,5.0,11.2,10.0,6.0,6.6,13.4,12.4,8.2,8.3,14.8,14.1,9.4,9.0,16.2,15.2,10.0,9.6,16.8,15.8,10.6,10.0,17.3,16.6,10.9,10.4,18.0,17.1,11.4]},
      {"s": "m14", "v": [4.6,9.2,6.7,2.7,2.7,8.0,6.3,0.4,1.1,7.5,5.6,5.0,5.1,10.6,8.5,7.1,7.1,12.4,10.4,7.0,6.6,11.9,10.8,6.6,6.3,12.6,11.4,7.6,7.2,12.1,10.9,6.0,6.8,13.3,12.0,8.1,8.8,16.4,15.5,11.3,11.6,19.4,18.6,12.9,12.4,20.8,19.7,13.4,12.8,19.2,18.0,12.2,11.6,21.5,20.8,13.8,13.2,22.0,20.6,13.7]},
      {"s": "Control", "v": [4.4,9.0,6.5,2.4,2.4,7.8,6.1,0.2,1.0,7.3,5.6,4.8,4.8,9.9,8.2,6.9,6.9,11.6,9.9,6.9,6.5,10.9,9.9,5.6,5.2,12.4,9.9,6.9,6.5,10.3,9.0,3.1,5.2,10.7,9.0,4.4,5.2,14.5,13.7,9.9,10.7,17.9,17.0,12.4,11.6,15.3,14.1,9.9,9.0,10.5,8.6,6.1,3.5,4.4,6.7,6.1,6.1,12.8,12.0,7.3]},
      {"s": "Oper", "v": [4.8,9.2,6.8,2.8,2.8,8.0,6.3,0.5,1.0,7.3,5.3,4.8,4.9,10.2,8.0,7.0,7.0,12.0,10.0,7.6,7.0,11.2,10.0,6.8,6.2,11.2,10.0,6.0,5.5,10.4,9.2,3.8,5.8,10.2,9.0,5.3,6.0,10.2,10.3,8.0]},
      {"s": "Ens mn", "v": [4.6,9.1,6.6,2.6,2.6,7.9,6.2,0.3,1.0,7.3,5.4,4.8,4.8,10.3,8.2,6.8,6.8,11.8,9.8,6.4,6.0,10.9,9.8,5.7,5.4,11.0,9.8,6.3,5.8,10.4,9.2,4.2,5.0,11.0,9.7,5.9,6.6,13.0,12.0,8.0,8.2,13.8,13.2,8.8,8.6,15.2,14.4,9.4,9.2,15.3,14.3,10.0,9.6,15.8,15.2,10.3,10.4,16.3,15.3,10.2]}
    ],
    "snow": [
      {"s": "m01", "v": [0,0,0,0,0,0,0,0,0,0,0,0,0,0,0,0,0,0,0,0,0,0,0,1.3,0,0,0,0,0,0,0,0,0,0,0,0,0,0,0,0,0,0,0,0,0,0,0,0,0,0,0,0,0,0,0,0,0,0,0,0]},
      {"s": "m02", "v": [0,0,0,0,0,0,0,0,0,0.05,0.1,0.02,0,0,0,0,0,0,0,0,0,0,0,0,0,0,0,0,0,0,0,0,0,0,0,0,0,0,0,0,0,0,0,0,0,0,0,0,0,0,0,0,0,0,0,0,0,0,0,0]},
      {"s": "m03", "v": [0,0,0,0,0,0,0,0,0,0,0,0,0,0,0,0,0,0,0,0,0,0,0,0,0,0,0,0,0,0,0,0,0,0,0,0,0,0,0,0,0,0,0,0,0,0,0,0,0,0,0,0,0,0,0,0,0.05,0.1,0.03,0]},
      {"s": "Control", "v": [0,0,0,0,0,0,0,0,0,0,0,0,0,0,0,0,0,0,0,0,0,0,0,0,0,0,0,0,0,0,0,0,0,0,0,0,0,0,0,0,0,0,0,0,0,0,0,0,0,0,0,0,0,0,0,0,0,0,0,0]},
      {"s": "Oper", "v": [0,0,0,0,0,0,0,0,0,0,0,0,0,0,0,0,0,0,0,0,0,0,0,0,0,0,0,0,0,0,0,0,0,0,0,0,0,0,0,0]},
      {"s": "Ens mn", "v": [0,0,0,0,0,0,0,0,0,0,0,0,0,0,0,0,0,0,0,0,0,0,0,0,0,0,0,0,0,0,0,0,0,0,0,0,0,0,0,0,0,0,0,0,0,0,0,0,0,0,0,0,0,0,0,0,0,0,0,0]}
    ]
  },
  "columns": 2,
  "spacing": {"row": 46, "column": 63},
  "bounds": "flush",
  "resolve": {
    "scale": {"color": "independent", "strokeDash": "independent", "strokeWidth": "independent"},
    "legend": {"color": "independent", "strokeDash": "independent", "strokeWidth": "independent"}
  },
  "concat": [
    {
      "title": "Zondag\u00a0\u00a0\u00a0\u00a0\u00a0 15 April\u00a0\u00a0\u00a0\u00a0\u00a0 2012\u00a0 (starttijd\u00a0 Zo 00 UTC)",
      "width": 326, "height": 138,
      "data": {"name": "rr"},
      "transform": [{"flatten": ["v"]}, {"window": [{"op": "row_number", "as": "i"}], "groupby": ["s"]}],
      "resolve": {"axis": {"x": "independent", "y": "independent"}},
      "layer": [
        {"data": {"values": [{"y": 15}]}, "mark": {"type": "rule", "color": "#000", "strokeDash": [1, 2], "strokeWidth": 1}, "encoding": {"y": {"field": "y", "type": "quantitative", "axis": null}}},
        {"transform": [{"filter": {"not": {"field": "s", "oneOf": ["Control", "Oper", "Ens mn"]}}}],
         "mark": {"type": "line", "color": "#7db340", "strokeWidth": 1.2, "opacity": 0.85},
         "encoding": {
           "x": {"field": "i", "type": "quantitative", "scale": {"domain": [0, 60]}, "axis": {"orient": "bottom", "title": "Dag", "titleY": 12.5, "titleBaseline": "top", "values": [2,6,10,14,18,22,26,30,34,38,42,46,50,54,58], "labelExpr": "['Zo','Ma','Di','Wo','Do','Vr','Za'][floor(datum.value / 4) % 7]", "labelFontSize": 8, "labelPadding": 5, "tickSize": 0}},
           "y": {"field": "v", "type": "quantitative", "scale": {"domain": [0, 20]}, "axis": {"orient": "left", "title": "mm", "values": [0, 5, 10, 15, 20]}},
           "detail": {"field": "s", "type": "nominal"}}},
        {"transform": [{"filter": {"field": "s", "oneOf": ["Control", "Oper", "Ens mn"]}}],
         "mark": {"type": "line"},
         "encoding": {
           "x": {"field": "i", "type": "quantitative", "axis": {"orient": "bottom", "title": null, "domain": false, "values": [0,4,8,12,16,20,24,28,32,36,40,44,48,52,56,60], "labelExpr": "'00'", "labelFontSize": 5.5, "labelPadding": -2, "tickSize": 3}},
           "y": {"field": "v", "type": "quantitative", "scale": {"domain": [0, 20]}, "axis": {"orient": "right", "title": null, "values": [0, 5, 10, 15, 20]}},
           "color": {"field": "s", "type": "ordinal", "scale": {"domain": ["Control", "Oper", "Ens mn"], "range": ["#2424ff", "#ff1414", "#7d1400"]}, "legend": {"title": null, "orient": "none", "legendX": 10.5, "legendY": 3.5, "direction": "vertical", "padding": 0, "rowPadding": 0, "symbolType": "M-3.67,0H3.67", "symbolSize": 36, "labelFontSize": 6.5, "labelOffset": 34, "labelAlign": "center"}},
           "strokeDash": {"field": "s", "type": "ordinal", "scale": {"domain": ["Control", "Oper", "Ens mn"], "range": [[5, 3], [1, 0], [3, 2.5]]}, "legend": {"title": null, "orient": "none", "legendX": 10.5, "legendY": 3.5, "direction": "vertical", "padding": 0, "rowPadding": 0, "symbolType": "M-3.67,0H3.67", "symbolSize": 36, "labelFontSize": 6.5, "labelOffset": 34, "labelAlign": "center"}},
           "strokeWidth": {"field": "s", "type": "ordinal", "scale": {"domain": ["Control", "Oper", "Ens mn"], "range": [1.5, 1.5, 3.3]}, "legend": {"title": null, "orient": "none", "legendX": 10.5, "legendY": 3.5, "direction": "vertical", "padding": 0, "rowPadding": 0, "symbolType": "M-3.67,0H3.67", "symbolSize": 36, "labelFontSize": 6.5, "labelOffset": 34, "labelAlign": "center"}}}},
        {"data": {"values": [{"lbl": "De Bilt\nNeerslag/6 uur"}]}, "mark": {"type": "text", "align": "center", "baseline": "alphabetic", "fontSize": 10, "lineBreak": "\n", "lineHeight": 10, "dx": -38, "dy": 9}, "encoding": {"x": {"datum": 60, "type": "quantitative", "axis": null}, "y": {"datum": 20, "type": "quantitative", "axis": null}, "text": {"field": "lbl"}}},
        {"data": {"values": [{"lbl": "Bron: ECMWF/KNMI"}]}, "mark": {"type": "text", "align": "right", "baseline": "alphabetic", "fontSize": 6.2, "fontWeight": "bold", "color": "#0000ff", "dx": 14, "dy": 20}, "encoding": {"x": {"datum": 60, "type": "quantitative", "axis": null}, "y": {"datum": 0, "type": "quantitative", "axis": null}, "text": {"field": "lbl"}}}
      ]
    },
    {
      "title": "Zondag\u00a0\u00a0\u00a0\u00a0\u00a0 15 April\u00a0\u00a0\u00a0\u00a0\u00a0 2012\u00a0 (starttijd\u00a0 Zo 00 UTC)",
      "width": 326, "height": 138,
      "data": {"name": "acc"},
      "transform": [{"flatten": ["v"]}, {"window": [{"op": "row_number", "as": "i"}], "groupby": ["s"]}],
      "resolve": {"axis": {"x": "independent", "y": "independent"}},
      "layer": [
        {"transform": [{"filter": {"not": {"field": "s", "oneOf": ["Control", "Oper", "Ens mn"]}}}],
         "mark": {"type": "line", "color": "#7db340", "strokeWidth": 1.2, "opacity": 0.85},
         "encoding": {
           "x": {"field": "i", "type": "quantitative", "scale": {"domain": [0, 60]}, "axis": {"orient": "bottom", "title": "Dag", "titleY": 12.5, "titleBaseline": "top", "values": [2,6,10,14,18,22,26,30,34,38,42,46,50,54,58], "labelExpr": "['Zo','Ma','Di','Wo','Do','Vr','Za'][floor(datum.value / 4) % 7]", "labelFontSize": 8, "labelPadding": 5, "tickSize": 0}},
           "y": {"field": "v", "type": "quantitative", "scale": {"domain": [0, 120]}, "axis": {"orient": "left", "title": "mm", "values": [0, 20, 40, 60, 80, 100, 120]}},
           "detail": {"field": "s", "type": "nominal"}}},
        {"transform": [{"filter": {"field": "s", "oneOf": ["Control", "Oper", "Ens mn"]}}],
         "mark": {"type": "line"},
         "encoding": {
           "x": {"field": "i", "type": "quantitative", "axis": {"orient": "bottom", "title": null, "domain": false, "values": [0,4,8,12,16,20,24,28,32,36,40,44,48,52,56,60], "labelExpr": "'00'", "labelFontSize": 5.5, "labelPadding": -2, "tickSize": 3}},
           "y": {"field": "v", "type": "quantitative", "scale": {"domain": [0, 120]}, "axis": {"orient": "right", "title": null, "values": [0, 20, 40, 60, 80, 100, 120]}},
           "color": {"field": "s", "type": "ordinal", "scale": {"domain": ["Control", "Oper", "Ens mn"], "range": ["#2424ff", "#ff1414", "#7d1400"]}, "legend": {"title": null, "orient": "none", "legendX": 10.5, "legendY": 3.5, "direction": "vertical", "padding": 0, "rowPadding": 0, "symbolType": "M-3.67,0H3.67", "symbolSize": 36, "labelFontSize": 6.5, "labelOffset": 34, "labelAlign": "center"}},
           "strokeDash": {"field": "s", "type": "ordinal", "scale": {"domain": ["Control", "Oper", "Ens mn"], "range": [[5, 3], [1, 0], [3, 2.5]]}, "legend": {"title": null, "orient": "none", "legendX": 10.5, "legendY": 3.5, "direction": "vertical", "padding": 0, "rowPadding": 0, "symbolType": "M-3.67,0H3.67", "symbolSize": 36, "labelFontSize": 6.5, "labelOffset": 34, "labelAlign": "center"}},
           "strokeWidth": {"field": "s", "type": "ordinal", "scale": {"domain": ["Control", "Oper", "Ens mn"], "range": [1.5, 1.5, 3.3]}, "legend": {"title": null, "orient": "none", "legendX": 10.5, "legendY": 3.5, "direction": "vertical", "padding": 0, "rowPadding": 0, "symbolType": "M-3.67,0H3.67", "symbolSize": 36, "labelFontSize": 6.5, "labelOffset": 34, "labelAlign": "center"}}}},
        {"data": {"values": [{"lbl": "De Bilt\nAccum Neerslag"}]}, "mark": {"type": "text", "align": "center", "baseline": "alphabetic", "fontSize": 10, "lineBreak": "\n", "lineHeight": 10, "dx": -38, "dy": 9}, "encoding": {"x": {"datum": 60, "type": "quantitative", "axis": null}, "y": {"datum": 120, "type": "quantitative", "axis": null}, "text": {"field": "lbl"}}},
        {"data": {"values": [{"lbl": "Bron: ECMWF/KNMI"}]}, "mark": {"type": "text", "align": "right", "baseline": "alphabetic", "fontSize": 6.2, "fontWeight": "bold", "color": "#0000ff", "dx": 14, "dy": 20}, "encoding": {"x": {"datum": 60, "type": "quantitative", "axis": null}, "y": {"datum": 0, "type": "quantitative", "axis": null}, "text": {"field": "lbl"}}}
      ]
    },
    {
      "title": "Zondag\u00a0\u00a0\u00a0\u00a0\u00a0 15 April\u00a0\u00a0\u00a0\u00a0\u00a0 2012\u00a0 (starttijd\u00a0 Zo 00 UTC)",
      "width": 326, "height": 138,
      "data": {"name": "wind"},
      "transform": [{"flatten": ["v"]}, {"window": [{"op": "row_number", "as": "i"}], "groupby": ["s"]}],
      "resolve": {"axis": {"x": "independent", "y": "independent"}},
      "layer": [
        {"data": {"values": [{"y": 10.8}, {"y": 13.9}, {"y": 17.2}]}, "mark": {"type": "rule", "color": "#000", "strokeDash": [1, 2], "strokeWidth": 1}, "encoding": {"y": {"field": "y", "type": "quantitative", "axis": null}}},
        {"transform": [{"filter": {"not": {"field": "s", "oneOf": ["Control", "Oper", "Ens mn"]}}}],
         "mark": {"type": "line", "color": "#7db340", "strokeWidth": 1.2, "opacity": 0.85},
         "encoding": {
           "x": {"field": "i", "type": "quantitative", "scale": {"domain": [0, 60]}, "axis": {"orient": "bottom", "title": "Dag", "titleY": 12.5, "titleBaseline": "top", "values": [2,6,10,14,18,22,26,30,34,38,42,46,50,54,58], "labelExpr": "['Zo','Ma','Di','Wo','Do','Vr','Za'][floor(datum.value / 4) % 7]", "labelFontSize": 8, "labelPadding": 5, "tickSize": 0}},
           "y": {"field": "v", "type": "quantitative", "scale": {"domain": [0, 20]}, "axis": {"orient": "left", "title": "m/s", "values": [0, 5, 10, 15, 20]}},
           "detail": {"field": "s", "type": "nominal"}}},
        {"transform": [{"filter": {"field": "s", "oneOf": ["Control", "Oper", "Ens mn"]}}],
         "mark": {"type": "line"},
         "encoding": {
           "x": {"field": "i", "type": "quantitative", "axis": {"orient": "bottom", "title": null, "domain": false, "values": [0,4,8,12,16,20,24,28,32,36,40,44,48,52,56,60], "labelExpr": "'00'", "labelFontSize": 5.5, "labelPadding": -2, "tickSize": 3}},
           "y": {"field": "v", "type": "quantitative", "scale": {"domain": [0, 20]}, "axis": {"orient": "right", "title": null, "values": [0, 5, 10, 15, 20]}},
           "color": {"field": "s", "type": "ordinal", "scale": {"domain": ["Control", "Oper", "Ens mn"], "range": ["#2424ff", "#ff1414", "#7d1400"]}, "legend": {"title": null, "orient": "none", "legendX": 10.5, "legendY": 3.5, "direction": "vertical", "padding": 0, "rowPadding": 0, "symbolType": "M-3.67,0H3.67", "symbolSize": 36, "labelFontSize": 6.5, "labelOffset": 34, "labelAlign": "center"}},
           "strokeDash": {"field": "s", "type": "ordinal", "scale": {"domain": ["Control", "Oper", "Ens mn"], "range": [[5, 3], [1, 0], [3, 2.5]]}, "legend": {"title": null, "orient": "none", "legendX": 10.5, "legendY": 3.5, "direction": "vertical", "padding": 0, "rowPadding": 0, "symbolType": "M-3.67,0H3.67", "symbolSize": 36, "labelFontSize": 6.5, "labelOffset": 34, "labelAlign": "center"}},
           "strokeWidth": {"field": "s", "type": "ordinal", "scale": {"domain": ["Control", "Oper", "Ens mn"], "range": [1.5, 1.5, 3.3]}, "legend": {"title": null, "orient": "none", "legendX": 10.5, "legendY": 3.5, "direction": "vertical", "padding": 0, "rowPadding": 0, "symbolType": "M-3.67,0H3.67", "symbolSize": 36, "labelFontSize": 6.5, "labelOffset": 34, "labelAlign": "center"}}}},
        {"data": {"values": [{"lbl": "De Bilt\n10m wind"}]}, "mark": {"type": "text", "align": "center", "baseline": "alphabetic", "fontSize": 10, "lineBreak": "\n", "lineHeight": 10, "dx": -38, "dy": 9}, "encoding": {"x": {"datum": 60, "type": "quantitative", "axis": null}, "y": {"datum": 20, "type": "quantitative", "axis": null}, "text": {"field": "lbl"}}},
        {"data": {"values": [{"lbl": "Bron: ECMWF/KNMI"}]}, "mark": {"type": "text", "align": "right", "baseline": "alphabetic", "fontSize": 6.2, "fontWeight": "bold", "color": "#0000ff", "dx": 14, "dy": 20}, "encoding": {"x": {"datum": 60, "type": "quantitative", "axis": null}, "y": {"datum": 0, "type": "quantitative", "axis": null}, "text": {"field": "lbl"}}}
      ]
    },
    {
      "title": "Zondag\u00a0\u00a0\u00a0\u00a0\u00a0 15 April\u00a0\u00a0\u00a0\u00a0\u00a0 2012\u00a0 (starttijd\u00a0 Zo 00 UTC)",
      "width": 326, "height": 138,
      "data": {"name": "gust"},
      "transform": [{"flatten": ["v"]}, {"window": [{"op": "row_number", "as": "i"}], "groupby": ["s"]}],
      "resolve": {"axis": {"x": "independent", "y": "independent"}},
      "layer": [
        {"data": {"values": [{"y": 20}, {"y": 25}]}, "mark": {"type": "rule", "color": "#000", "strokeDash": [1, 2], "strokeWidth": 1}, "encoding": {"y": {"field": "y", "type": "quantitative", "axis": null}}},
        {"data": {"values": [{"y": 28.5}]}, "mark": {"type": "rule", "color": "#ff00ff", "strokeDash": [4, 2], "strokeWidth": 1.5}, "encoding": {"y": {"field": "y", "type": "quantitative", "axis": null}}},
        {"transform": [{"filter": {"not": {"field": "s", "oneOf": ["Control", "Oper", "Ens mn"]}}}],
         "mark": {"type": "line", "color": "#7db340", "strokeWidth": 1.2, "opacity": 0.85},
         "encoding": {
           "x": {"field": "i", "type": "quantitative", "scale": {"domain": [0, 60]}, "axis": {"orient": "bottom", "title": "Dag", "titleY": 12.5, "titleBaseline": "top", "values": [2,6,10,14,18,22,26,30,34,38,42,46,50,54,58], "labelExpr": "['Zo','Ma','Di','Wo','Do','Vr','Za'][floor(datum.value / 4) % 7]", "labelFontSize": 8, "labelPadding": 5, "tickSize": 0}},
           "y": {"field": "v", "type": "quantitative", "scale": {"domain": [0, 35]}, "axis": {"orient": "left", "title": "m/s", "values": [0, 5, 10, 15, 20, 25, 30, 35]}},
           "detail": {"field": "s", "type": "nominal"}}},
        {"transform": [{"filter": {"field": "s", "oneOf": ["Control", "Oper", "Ens mn"]}}],
         "mark": {"type": "line"},
         "encoding": {
           "x": {"field": "i", "type": "quantitative", "axis": {"orient": "bottom", "title": null, "domain": false, "values": [0,4,8,12,16,20,24,28,32,36,40,44,48,52,56,60], "labelExpr": "'00'", "labelFontSize": 5.5, "labelPadding": -2, "tickSize": 3}},
           "y": {"field": "v", "type": "quantitative", "scale": {"domain": [0, 35]}, "axis": {"orient": "right", "title": null, "values": [0, 5, 10, 15, 20, 25, 30, 35]}},
           "color": {"field": "s", "type": "ordinal", "scale": {"domain": ["Control", "Oper", "Ens mn"], "range": ["#2424ff", "#ff1414", "#7d1400"]}, "legend": {"title": null, "orient": "none", "legendX": 10.5, "legendY": 3.5, "direction": "vertical", "padding": 0, "rowPadding": 0, "symbolType": "M-3.67,0H3.67", "symbolSize": 36, "labelFontSize": 6.5, "labelOffset": 34, "labelAlign": "center"}},
           "strokeDash": {"field": "s", "type": "ordinal", "scale": {"domain": ["Control", "Oper", "Ens mn"], "range": [[5, 3], [1, 0], [3, 2.5]]}, "legend": {"title": null, "orient": "none", "legendX": 10.5, "legendY": 3.5, "direction": "vertical", "padding": 0, "rowPadding": 0, "symbolType": "M-3.67,0H3.67", "symbolSize": 36, "labelFontSize": 6.5, "labelOffset": 34, "labelAlign": "center"}},
           "strokeWidth": {"field": "s", "type": "ordinal", "scale": {"domain": ["Control", "Oper", "Ens mn"], "range": [1.5, 1.5, 3.3]}, "legend": {"title": null, "orient": "none", "legendX": 10.5, "legendY": 3.5, "direction": "vertical", "padding": 0, "rowPadding": 0, "symbolType": "M-3.67,0H3.67", "symbolSize": 36, "labelFontSize": 6.5, "labelOffset": 34, "labelAlign": "center"}}}},
        {"data": {"values": [{"lbl": "De Bilt\nWindstoten"}]}, "mark": {"type": "text", "align": "center", "baseline": "alphabetic", "fontSize": 10, "lineBreak": "\n", "lineHeight": 10, "dx": -38, "dy": 9}, "encoding": {"x": {"datum": 60, "type": "quantitative", "axis": null}, "y": {"datum": 35, "type": "quantitative", "axis": null}, "text": {"field": "lbl"}}},
        {"data": {"values": [{"lbl": "Bron: ECMWF/KNMI"}]}, "mark": {"type": "text", "align": "right", "baseline": "alphabetic", "fontSize": 6.2, "fontWeight": "bold", "color": "#0000ff", "dx": 14, "dy": 20}, "encoding": {"x": {"datum": 60, "type": "quantitative", "axis": null}, "y": {"datum": 0, "type": "quantitative", "axis": null}, "text": {"field": "lbl"}}}
      ]
    },
    {
      "title": "Zondag\u00a0\u00a0\u00a0\u00a0\u00a0 15 April\u00a0\u00a0\u00a0\u00a0\u00a0 2012\u00a0 (starttijd\u00a0 Zo 00 UTC)",
      "width": 326, "height": 138,
      "data": {"name": "t2m"},
      "transform": [{"flatten": ["v"]}, {"window": [{"op": "row_number", "as": "i"}], "groupby": ["s"]}],
      "resolve": {"axis": {"x": "independent", "y": "independent"}},
      "layer": [
        {"data": {"values": [{"y": 25}]}, "mark": {"type": "rule", "color": "#000", "strokeDash": [1, 2], "strokeWidth": 1}, "encoding": {"y": {"field": "y", "type": "quantitative", "axis": null}}},
        {"transform": [{"filter": {"not": {"field": "s", "oneOf": ["Control", "Oper", "Ens mn"]}}}],
         "mark": {"type": "line", "color": "#7db340", "strokeWidth": 1.2, "opacity": 0.85},
         "encoding": {
           "x": {"field": "i", "type": "quantitative", "scale": {"domain": [0, 60]}, "axis": {"orient": "bottom", "title": "Dag", "titleY": 12.5, "titleBaseline": "top", "values": [2,6,10,14,18,22,26,30,34,38,42,46,50,54,58], "labelExpr": "['Zo','Ma','Di','Wo','Do','Vr','Za'][floor(datum.value / 4) % 7]", "labelFontSize": 8, "labelPadding": 5, "tickSize": 0}},
           "y": {"field": "v", "type": "quantitative", "scale": {"domain": [-5, 30]}, "axis": {"orient": "left", "title": "Celsius", "values": [-5, 0, 5, 10, 15, 20, 25, 30]}},
           "detail": {"field": "s", "type": "nominal"}}},
        {"data": {"values": [{"y": 0}]}, "mark": {"type": "rule", "color": "#000", "strokeWidth": 3.5}, "encoding": {"y": {"field": "y", "type": "quantitative", "axis": null}}},
        {"transform": [{"filter": {"field": "s", "oneOf": ["Control", "Oper", "Ens mn"]}}],
         "mark": {"type": "line"},
         "encoding": {
           "x": {"field": "i", "type": "quantitative", "axis": {"orient": "bottom", "title": null, "domain": false, "values": [0,4,8,12,16,20,24,28,32,36,40,44,48,52,56,60], "labelExpr": "'00'", "labelFontSize": 5.5, "labelPadding": -2, "tickSize": 3}},
           "y": {"field": "v", "type": "quantitative", "scale": {"domain": [-5, 30]}, "axis": {"orient": "right", "title": null, "values": [-5, 0, 5, 10, 15, 20, 25, 30]}},
           "color": {"field": "s", "type": "ordinal", "scale": {"domain": ["Control", "Oper", "Ens mn"], "range": ["#2424ff", "#ff1414", "#7d1400"]}, "legend": {"title": null, "orient": "none", "legendX": 10.5, "legendY": 3.5, "direction": "vertical", "padding": 0, "rowPadding": 0, "symbolType": "M-3.67,0H3.67", "symbolSize": 36, "labelFontSize": 6.5, "labelOffset": 34, "labelAlign": "center"}},
           "strokeDash": {"field": "s", "type": "ordinal", "scale": {"domain": ["Control", "Oper", "Ens mn"], "range": [[5, 3], [1, 0], [3, 2.5]]}, "legend": {"title": null, "orient": "none", "legendX": 10.5, "legendY": 3.5, "direction": "vertical", "padding": 0, "rowPadding": 0, "symbolType": "M-3.67,0H3.67", "symbolSize": 36, "labelFontSize": 6.5, "labelOffset": 34, "labelAlign": "center"}},
           "strokeWidth": {"field": "s", "type": "ordinal", "scale": {"domain": ["Control", "Oper", "Ens mn"], "range": [1.5, 1.5, 3.3]}, "legend": {"title": null, "orient": "none", "legendX": 10.5, "legendY": 3.5, "direction": "vertical", "padding": 0, "rowPadding": 0, "symbolType": "M-3.67,0H3.67", "symbolSize": 36, "labelFontSize": 6.5, "labelOffset": 34, "labelAlign": "center"}}}},
        {"data": {"values": [{"lbl": "De Bilt\nT2m"}]}, "mark": {"type": "text", "align": "center", "baseline": "alphabetic", "fontSize": 10, "lineBreak": "\n", "lineHeight": 10, "dx": -38, "dy": 9}, "encoding": {"x": {"datum": 60, "type": "quantitative", "axis": null}, "y": {"datum": 30, "type": "quantitative", "axis": null}, "text": {"field": "lbl"}}},
        {"data": {"values": [{"lbl": "Bron: ECMWF/KNMI"}]}, "mark": {"type": "text", "align": "right", "baseline": "alphabetic", "fontSize": 6.2, "fontWeight": "bold", "color": "#0000ff", "dx": 14, "dy": 20}, "encoding": {"x": {"datum": 60, "type": "quantitative", "axis": null}, "y": {"datum": -5, "type": "quantitative", "axis": null}, "text": {"field": "lbl"}}}
      ]
    },
    {
      "title": "Zondag\u00a0\u00a0\u00a0\u00a0\u00a0 15 April\u00a0\u00a0\u00a0\u00a0\u00a0 2012\u00a0 (starttijd\u00a0 Zo 00 UTC)",
      "width": 326, "height": 138,
      "data": {"name": "snow"},
      "transform": [{"flatten": ["v"]}, {"window": [{"op": "row_number", "as": "i"}], "groupby": ["s"]}],
      "resolve": {"axis": {"x": "independent", "y": "independent"}},
      "layer": [
        {"transform": [{"filter": {"not": {"field": "s", "oneOf": ["Control", "Oper", "Ens mn"]}}}],
         "mark": {"type": "line", "color": "#7db340", "strokeWidth": 1.2, "opacity": 0.85},
         "encoding": {
           "x": {"field": "i", "type": "quantitative", "scale": {"domain": [0, 60]}, "axis": {"orient": "bottom", "title": "Dag", "titleY": 12.5, "titleBaseline": "top", "values": [2,6,10,14,18,22,26,30,34,38,42,46,50,54,58], "labelExpr": "['Zo','Ma','Di','Wo','Do','Vr','Za'][floor(datum.value / 4) % 7]", "labelFontSize": 8, "labelPadding": 5, "tickSize": 0}},
           "y": {"field": "v", "type": "quantitative", "scale": {"domain": [0, 5]}, "axis": {"orient": "left", "title": "cm", "values": [0, 1, 2, 3, 4, 5]}},
           "detail": {"field": "s", "type": "nominal"}}},
        {"transform": [{"filter": {"field": "s", "oneOf": ["Control", "Oper", "Ens mn"]}}],
         "mark": {"type": "line"},
         "encoding": {
           "x": {"field": "i", "type": "quantitative", "axis": {"orient": "bottom", "title": null, "domain": false, "values": [0,4,8,12,16,20,24,28,32,36,40,44,48,52,56,60], "labelExpr": "'00'", "labelFontSize": 5.5, "labelPadding": -2, "tickSize": 3}},
           "y": {"field": "v", "type": "quantitative", "scale": {"domain": [0, 5]}, "axis": {"orient": "right", "title": null, "values": [0, 1, 2, 3, 4, 5]}},
           "color": {"field": "s", "type": "ordinal", "scale": {"domain": ["Control", "Oper", "Ens mn"], "range": ["#2424ff", "#ff1414", "#7d1400"]}, "legend": {"title": null, "orient": "none", "legendX": 10.5, "legendY": 3.5, "direction": "vertical", "padding": 0, "rowPadding": 0, "symbolType": "M-3.67,0H3.67", "symbolSize": 36, "labelFontSize": 6.5, "labelOffset": 34, "labelAlign": "center"}},
           "strokeDash": {"field": "s", "type": "ordinal", "scale": {"domain": ["Control", "Oper", "Ens mn"], "range": [[5, 3], [1, 0], [3, 2.5]]}, "legend": {"title": null, "orient": "none", "legendX": 10.5, "legendY": 3.5, "direction": "vertical", "padding": 0, "rowPadding": 0, "symbolType": "M-3.67,0H3.67", "symbolSize": 36, "labelFontSize": 6.5, "labelOffset": 34, "labelAlign": "center"}},
           "strokeWidth": {"field": "s", "type": "ordinal", "scale": {"domain": ["Control", "Oper", "Ens mn"], "range": [1.5, 1.5, 3.3]}, "legend": {"title": null, "orient": "none", "legendX": 10.5, "legendY": 3.5, "direction": "vertical", "padding": 0, "rowPadding": 0, "symbolType": "M-3.67,0H3.67", "symbolSize": 36, "labelFontSize": 6.5, "labelOffset": 34, "labelAlign": "center"}}}},
        {"data": {"values": [{"lbl": "De Bilt\nSneeuwval/6 uur"}]}, "mark": {"type": "text", "align": "center", "baseline": "alphabetic", "fontSize": 10, "lineBreak": "\n", "lineHeight": 10, "dx": -38, "dy": 9}, "encoding": {"x": {"datum": 60, "type": "quantitative", "axis": null}, "y": {"datum": 5, "type": "quantitative", "axis": null}, "text": {"field": "lbl"}}},
        {"data": {"values": [{"lbl": "Bron: ECMWF/KNMI"}]}, "mark": {"type": "text", "align": "right", "baseline": "alphabetic", "fontSize": 6.2, "fontWeight": "bold", "color": "#0000ff", "dx": 14, "dy": 20}, "encoding": {"x": {"datum": 60, "type": "quantitative", "axis": null}, "y": {"datum": 0, "type": "quantitative", "axis": null}, "text": {"field": "lbl"}}}
      ]
    }
  ],
  "config": {
    "font": "Liberation Sans",
    "view": {"stroke": null},
    "title": {"fontSize": 10.5, "fontWeight": "normal", "font": "Liberation Sans", "offset": -2, "baseline": "alphabetic", "anchor": "middle", "color": "#000"},
    "axis": {"grid": false, "labelFont": "Liberation Sans", "titleFont": "Liberation Sans", "labelColor": "#000", "titleColor": "#000", "domainColor": "#333", "tickColor": "#333"},
    "axisX": {"domainWidth": 1.5, "titleFontSize": 12.5, "titleFontWeight": "bold", "labelOverlap": false, "labelBound": false, "labelFlush": false},
    "axisY": {"domainColor": "#555", "domainWidth": 2, "tickSize": 4, "labelPadding": 1.5, "labelFontSize": 7.5, "titleFontSize": 12.5, "titleFontWeight": "bold", "titleX": -14, "titleBaseline": "alphabetic"},
    "legend": {"labelFont": "Liberation Sans", "labelColor": "#000"}
  }
}
